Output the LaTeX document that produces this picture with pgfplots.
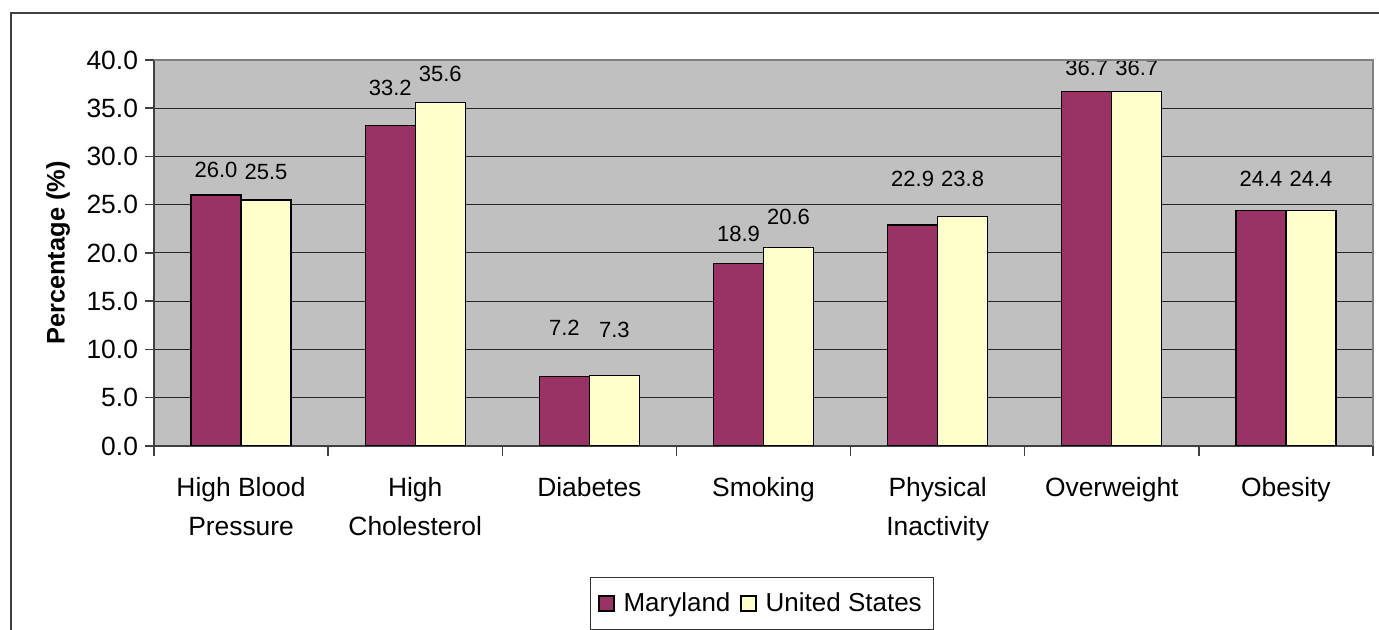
\documentclass[border=0pt]{standalone}
\usepackage{pgfplots}
\usepackage{pgfplotstable}
\pgfplotsset{compat=1.18}
\usepackage{fontspec}
\setmainfont{Liberation Sans}

\definecolor{mdred}{HTML}{993366}
\definecolor{usyellow}{HTML}{FFFFCC}
\definecolor{plotgray}{HTML}{C0C0C0}
\definecolor{bordergray}{HTML}{808080}
\definecolor{framegray}{HTML}{404040}

% Prevalence of risk factors (%), Maryland vs United States.
% mdoff/usoff: vertical offset (pt) of each value label above its bar.
\pgfplotstableread{
x  md    us    mdoff  usoff
1  26.0  25.5  12.5   14.0
2  33.2  35.6  18.8   14.3
3  7.2   7.3   24.4   23.0
4  18.9  20.6  15.0   15.0
5  22.9  23.8  23.0   18.9
6  36.7  36.7  11.9   11.9
7  24.4  24.4  15.9   15.9
}\riskdata

\begin{document}
\begin{tikzpicture}
\useasboundingbox (0,0) rectangle (689.5pt,315pt);
\clip (0,0) rectangle (689.5pt,315pt);
\fill[white] (0,0) rectangle (689.5pt,315pt);
% chart frame
\draw[framegray, line width=0.75pt] (5.5pt,-10pt) -- (5.5pt,308.5pt) -- (700pt,308.5pt);
\begin{axis}[
  at={(77pt,92pt)}, anchor=south west,
  scale only axis,
  width=609.5pt, height=193pt,
  xmin=0.5, xmax=7.5,
  ymin=0, ymax=40,
  ytick={0,5,...,40},
  xtick={1,...,7},
  xticklabels={{High Blood\\Pressure},{High\\Cholesterol},Diabetes,Smoking,{Physical\\Inactivity},Overweight,Obesity},
  minor xtick={0.5,1.5,...,7.5},
  axis lines=left,
  axis line style={-, black!75, line width=0.75pt},
  tick align=outside,
  tick pos=left,
  major tick length=4.5pt,
  minor tick length=5pt,
  major x tick style={draw=none},
  minor x tick style={black!75, line width=0.75pt},
  major y tick style={black!75, line width=0.75pt},
  ymajorgrids,
  grid style={black!85, line width=0.5pt},
  axis background/.style={fill=plotgray},
  /pgf/number format/assume math mode=true,
  yticklabel style={/pgf/number format/.cd, fixed, fixed zerofill, precision=1},
  ticklabel style={font=\fontsize{13.2}{15.6}\selectfont},
  xticklabel style={align=center, anchor=north, yshift=-7.5pt, font=\fontsize{13.2}{19.5}\selectfont},
  ylabel={Percentage (\%)},
  every axis y label/.style={at={(axis description cs:0,0.5)}, xshift=-48pt, rotate=90, anchor=center, font=\fontsize{12.7}{15}\selectfont\bfseries},
  ybar=0pt,
  bar width=25pt,
  nodes near coords={\pgfmathprintnumber[fixed,fixed zerofill,precision=1,assume math mode=true]{\pgfplotspointmeta}},
  every node near coord/.append style={font=\fontsize{11}{12}\selectfont, anchor=center, black},
  legend columns=2,
  legend style={at={(axis description cs:0.4988,-0.408)}, anchor=center,
    draw=black!80, line width=0.5pt, font=\fontsize{13}{15}\selectfont,
    /tikz/every odd column/.append style={column sep=2.5pt},
    /tikz/every even column/.append style={column sep=3pt},
    inner xsep=4pt, inner ysep=5.5pt},
  legend image code/.code={\draw[#1, line width=0.6pt] (0pt,-3.75pt) rectangle (7.5pt,3.75pt);},
  after end axis/.code={
    \draw[bordergray, line width=1pt] (rel axis cs:0,1) -- (rel axis cs:1,1) -- (rel axis cs:1,0);
  },
]
\addplot[fill=mdred, draw=black, line width=0.65pt,
  visualization depends on={\thisrow{mdoff} \as \labeloff},
  every node near coord/.append style={yshift=\labeloff pt}]
  table[x=x, y=md] {\riskdata};
\addplot[fill=usyellow, draw=black, line width=0.65pt,
  visualization depends on={\thisrow{usoff} \as \labeloff},
  every node near coord/.append style={yshift=\labeloff pt}]
  table[x=x, y=us] {\riskdata};
\legend{Maryland, United States}
\end{axis}
\end{tikzpicture}
\end{document}
